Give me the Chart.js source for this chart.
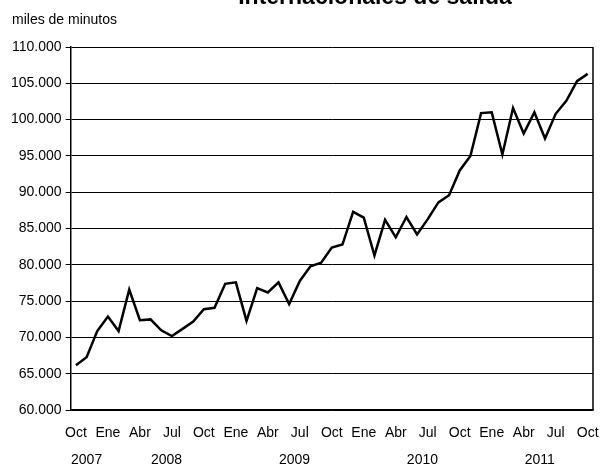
<!DOCTYPE html>
<html>
<head>
<meta charset="utf-8">
<script src="https://cdn.jsdelivr.net/npm/chart.js@4/dist/chart.umd.min.js"></script>
<style>
html,body{margin:0;padding:0;background:#fff;}
#wrap{width:600px;height:464px;position:relative;}
</style>
</head>
<body>
<div id="wrap"><canvas id="c" width="600" height="464"></canvas></div>
<script>
// Month categories (Oct 2007 – Oct 2011)
const months = [
  'Oct','Nov','Dic',
  'Ene','Feb','Mar','Abr','May','Jun','Jul','Ago','Sep','Oct','Nov','Dic',
  'Ene','Feb','Mar','Abr','May','Jun','Jul','Ago','Sep','Oct','Nov','Dic',
  'Ene','Feb','Mar','Abr','May','Jun','Jul','Ago','Sep','Oct','Nov','Dic',
  'Ene','Feb','Mar','Abr','May','Jun','Jul','Ago','Sep','Oct'
];
const years = [
  '2007','2007','2007',
  '2008','2008','2008','2008','2008','2008','2008','2008','2008','2008','2008','2008',
  '2009','2009','2009','2009','2009','2009','2009','2009','2009','2009','2009','2009',
  '2010','2010','2010','2010','2010','2010','2010','2010','2010','2010','2010','2010',
  '2011','2011','2011','2011','2011','2011','2011','2011','2011','2011'
];
// miles de minutos
const minutes = [
  66200, 67300, 70900,
  72900, 70900, 76600, 72400, 72500, 71000, 70200, 71200, 72200, 73900, 74100, 77400,
  77600, 72300, 76800, 76200, 77600, 74600, 77800, 79800, 80300, 82400, 82800, 87300,
  86500, 81300, 86200, 83800, 86600, 84200, 86300, 88600, 89600, 93000, 95000, 100900,
  101000, 95200, 101600, 98100, 101000, 97400, 100800, 102600, 105300, 106300
];
const titleText = 'Internacionales de salida';
const unitText = 'miles de minutos';
const yMin = 60000, yMax = 110000, yStep = 5000;

const FONT = "'Liberation Sans', Arial, sans-serif";

function fmt(v){
  return String(Math.round(v)).replace(/\B(?=(\d{3})+(?!\d))/g, '.');
}

const decor = {
  id: 'decor',
  afterDraw(chart){
    const ctx = chart.ctx;
    const a = chart.chartArea;
    const xs = chart.scales.x;
    ctx.save();
    // right border of plot frame
    ctx.strokeStyle = '#000';
    ctx.lineWidth = 1.5;
    ctx.beginPath();
    ctx.moveTo(a.right, a.top);
    ctx.lineTo(a.right, a.bottom);
    ctx.stroke();
    // title (cut at the top)
    ctx.fillStyle = '#000';
    ctx.font = "bold 23px " + FONT;
    ctx.textAlign = 'center';
    ctx.textBaseline = 'alphabetic';
    ctx.fillText(titleText, 375, 4);
    // unit label
    ctx.font = "14px " + FONT;
    ctx.textAlign = 'left';
    ctx.textBaseline = 'middle';
    ctx.fillText(unitText, 12, 20);
    // year labels centred over each year's months
    ctx.textAlign = 'center';
    let start = 0;
    for (let i = 1; i <= years.length; i++){
      if (i === years.length || years[i] !== years[start]){
        const x = (xs.getPixelForValue(start) + xs.getPixelForValue(i - 1)) / 2;
        ctx.fillText(years[start], x, 460);
        start = i;
      }
    }
    ctx.restore();
  }
};

new Chart(document.getElementById('c'), {
  type: 'line',
  data: {
    labels: months,
    datasets: [{
      data: minutes,
      borderColor: '#000',
      borderWidth: 2.5,
      pointRadius: 0,
      tension: 0,
      fill: false
    }]
  },
  options: {
    responsive: false,
    animation: false,
    devicePixelRatio: 1,
    layout: { padding: { left: 7, right: 7, top: 47, bottom: 15 } },
    plugins: { legend: { display: false }, tooltip: { enabled: false }, title: { display: false } },
    scales: {
      x: {
        type: 'category',
        offset: true,
        grid: { display: false },
        border: { display: true, color: '#000', width: 1.5 },
        afterFit: function(s){ s.paddingLeft = 0; s.paddingRight = 0; },
        ticks: {
          autoSkip: false,
          maxRotation: 0,
          minRotation: 0,
          padding: 7,
          color: '#000',
          font: { family: FONT, size: 14 },
          callback: function(v, i){ return i % 3 === 0 ? months[i] : ''; }
        }
      },
      y: {
        min: yMin,
        max: yMax,
        grid: { color: '#000', lineWidth: 1, drawTicks: true, tickLength: 5, tickColor: '#000' },
        border: { display: true, color: '#000', width: 1.5 },
        ticks: {
          stepSize: yStep,
          padding: 4,
          color: '#000',
          font: { family: FONT, size: 14 },
          callback: function(v){ return fmt(v); }
        }
      }
    }
  },
  plugins: [decor]
});
</script>
</body>
</html>
